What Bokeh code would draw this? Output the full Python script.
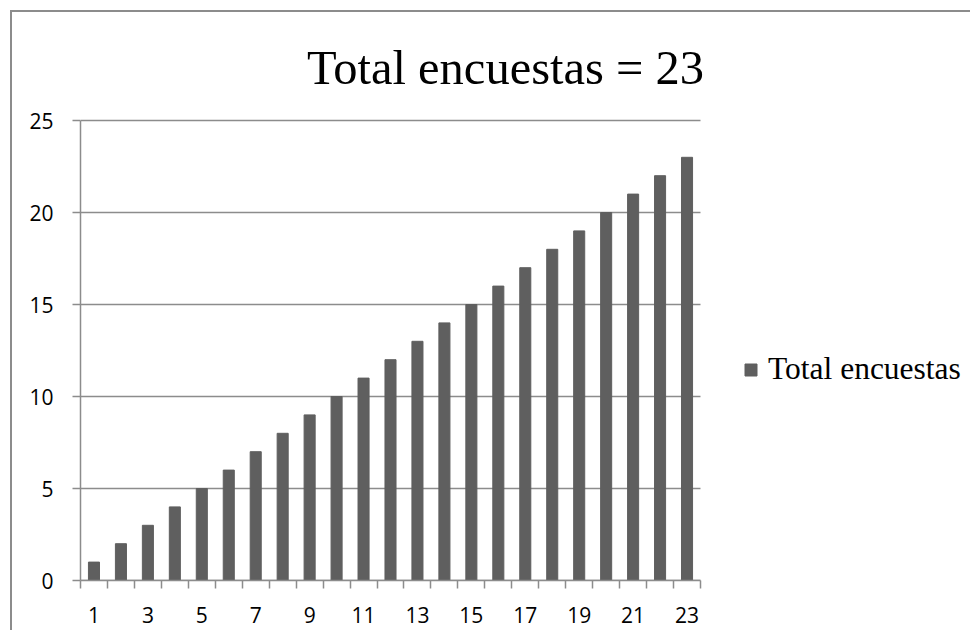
from bokeh.plotting import figure
from bokeh.models import Range1d, FixedTicker, Legend, LegendItem, Label
from bokeh.embed import file_html
from bokeh.resources import INLINE

# data
categories = [1, 2, 3, 4, 5, 6, 7, 8, 9, 10, 11, 12, 13, 14, 15, 16, 17, 18, 19, 20, 21, 22, 23]
total_encuestas = [1, 2, 3, 4, 5, 6, 7, 8, 9, 10, 11, 12, 13, 14, 15, 16, 17, 18, 19, 20, 21, 22, 23]
x_tick_values = [1, 3, 5, 7, 9, 11, 13, 15, 17, 19, 21, 23]
x_tick_labels = ["1", "3", "5", "7", "9", "11", "13", "15", "17", "19", "21", "23"]
y_tick_values = [0, 5, 10, 15, 20, 25]
y_max = 25
title_text = "Total encuestas = 23"
series_name = "Total encuestas"

GRAY = "#8c8c8c"
BAR = "#5f5f5f"

# layout (pixels)
W, H = 960, 620
LEFT, BOTTOM = 68, 52
PLOT_W, PLOT_H = 620, 460          # size of the category/value area
FRAME_W, FRAME_H = W - LEFT, H - BOTTOM   # frame extends to top/right so annotations are not clipped

x_start = categories[0] - 0.5
x_end_cat = categories[-1] + 0.5
x_per_px = (x_end_cat - x_start) / PLOT_W
y_per_px = y_max / PLOT_H
x_end = x_start + FRAME_W * x_per_px
y_end = FRAME_H * y_per_px

p = figure(width=W, height=H,
           x_range=Range1d(x_start, x_end),
           y_range=Range1d(0, y_end),
           output_backend="svg", toolbar_location=None,
           min_border_left=LEFT, min_border_right=0,
           min_border_top=0, min_border_bottom=BOTTOM)
p.styles = {"margin-left": "10px", "margin-top": "10px",
            "border-left": "2px solid " + GRAY, "border-top": "2px solid " + GRAY}
p.outline_line_color = None
p.background_fill_color = "white"
p.border_fill_color = "white"

# horizontal gridlines limited to the category area
p.segment(x0=[x_start] * len(y_tick_values), x1=[x_end_cat] * len(y_tick_values),
          y0=y_tick_values, y1=y_tick_values, line_color=GRAY, line_width=1.5)

r = p.vbar(x=categories, top=total_encuestas, width=0.41,
           fill_color=BAR, line_color=BAR)

# x axis
boundaries = [c - 0.5 for c in categories] + [categories[-1] + 0.5]
p.xaxis.bounds = (x_start, x_end_cat)
p.xaxis.ticker = FixedTicker(ticks=x_tick_values, minor_ticks=boundaries)
p.xaxis.major_label_overrides = {v: l for v, l in zip(x_tick_values, x_tick_labels)}
p.xaxis.major_tick_out = 0
p.xaxis.major_tick_in = 0
p.xaxis.minor_tick_out = 8
p.xaxis.minor_tick_in = 0
p.xaxis.minor_tick_line_color = GRAY
p.xaxis.minor_tick_line_width = 1.5
p.xaxis.axis_line_color = GRAY
p.xaxis.axis_line_width = 1.5
p.xaxis.major_label_standoff = 18
p.xaxis.major_label_text_font = "Open Sans"
p.xaxis.major_label_text_font_size = "21px"
p.xaxis.major_label_text_color = "black"

# y axis
p.yaxis.bounds = (0, y_max)
p.yaxis.ticker = FixedTicker(ticks=y_tick_values)
p.yaxis.major_tick_out = 8
p.yaxis.major_tick_in = 0
p.yaxis.minor_tick_out = 0
p.yaxis.minor_tick_in = 0
p.yaxis.major_tick_line_color = GRAY
p.yaxis.major_tick_line_width = 1.5
p.yaxis.axis_line_color = GRAY
p.yaxis.axis_line_width = 1.5
p.yaxis.major_label_standoff = 19
p.yaxis.major_label_text_font = "Open Sans"
p.yaxis.major_label_text_font_size = "21px"
p.yaxis.major_label_text_color = "black"

p.xgrid.visible = False
p.ygrid.visible = False

# chart title (placed as an annotation inside the extended frame)
TITLE_CX_PX = 425      # title centre, px right of the value axis
TITLE_BASE_PX = 513    # title baseline, px above the category axis
p.add_layout(Label(x=x_start + TITLE_CX_PX * x_per_px, y=TITLE_BASE_PX * y_per_px,
                   text=title_text, text_font="Liberation Serif",
                   text_font_size="48.5px", text_color="black",
                   text_align="center", text_baseline="alphabetic"))

legend = Legend(items=[LegendItem(label=series_name, renderers=[r])],
                location=(663, 193), glyph_width=15, glyph_height=15,
                label_text_font="Liberation Serif", label_text_font_size="31.5px",
                label_text_color="black",
                padding=0, margin=0, spacing=0, label_standoff=10,
                border_line_color=None, background_fill_alpha=0)
p.add_layout(legend, "center")

open("out.html", "w").write(file_html(p, INLINE))
